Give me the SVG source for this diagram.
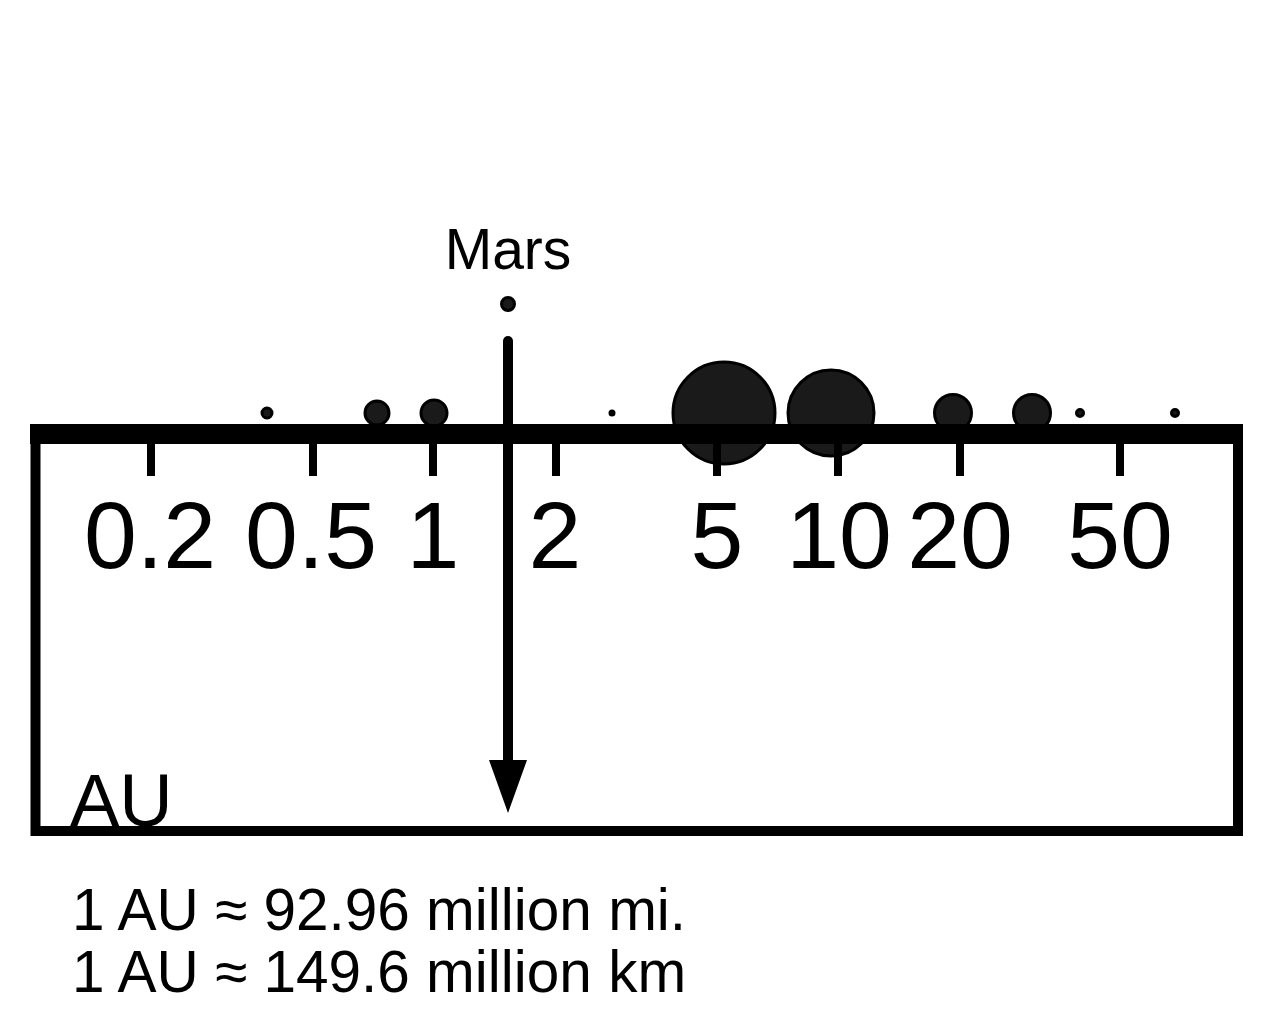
<svg xmlns="http://www.w3.org/2000/svg" width="1272" height="1033" viewBox="0 0 1272 1033">
<style>
.planet{fill:#1a1a1a;stroke:#000;stroke-width:3}
.tick{stroke:#000;stroke-width:8}
.num{font-family:"Liberation Sans",Arial,sans-serif;font-size:95px;text-anchor:middle;fill:#000}
.lbl{font-family:"Liberation Sans",Arial,sans-serif;fill:#000}
</style>
<rect width="1272" height="1033" fill="#fff"/>
<g id="frame">
<rect x="35.5" y="434" width="1202.5" height="397" fill="none" stroke="#000" stroke-width="10"/>
</g>
<g id="planets">
<circle class="planet" cx="267" cy="413" r="5"/>
<circle class="planet" cx="377" cy="413" r="12"/>
<circle class="planet" cx="434" cy="413" r="13"/>
<circle class="planet" cx="612" cy="413" r="2"/>
<circle class="planet" cx="724" cy="413" r="51"/>
<circle class="planet" cx="831" cy="413" r="43"/>
<circle class="planet" cx="953" cy="413" r="18.5"/>
<circle class="planet" cx="1032" cy="413" r="18.5"/>
<circle class="planet" cx="1080" cy="413" r="3.5"/>
<circle class="planet" cx="1175" cy="413" r="3.5"/>
</g>
<g id="axis">
<rect x="30" y="424" width="1213" height="20" fill="#000"/>
<line class="tick" x1="151" y1="440" x2="151" y2="476"/>
<line class="tick" x1="313" y1="440" x2="313" y2="476"/>
<line class="tick" x1="433" y1="440" x2="433" y2="476"/>
<line class="tick" x1="556" y1="440" x2="556" y2="476"/>
<line class="tick" x1="717" y1="440" x2="717" y2="476"/>
<line class="tick" x1="838" y1="440" x2="838" y2="476"/>
<line class="tick" x1="960" y1="440" x2="960" y2="476"/>
<line class="tick" x1="1120" y1="440" x2="1120" y2="476"/>
</g>
<g id="labels">
<text class="num" x="150" y="568">0.2</text>
<text class="num" x="311" y="568">0.5</text>
<text class="num" x="433" y="568">1</text>
<text class="num" x="555" y="568">2</text>
<text class="num" x="717" y="568">5</text>
<text class="num" x="839" y="568">10</text>
<text class="num" x="960" y="568">20</text>
<text class="num" x="1120" y="568">50</text>
<text class="lbl" x="70" y="826" font-size="74">AU</text>
</g>
<g id="mars">
<circle class="planet" cx="508" cy="304" r="6.5"/>
<text class="lbl" x="508" y="269" font-size="57" text-anchor="middle">Mars</text>
</g>
<g id="connectors">
<line x1="508" y1="341" x2="508" y2="765" stroke="#000" stroke-width="10" stroke-linecap="round"/>
<polygon points="489,760 527,760 508,813" fill="#000"/>
</g>
<g id="notes">
<text class="lbl" x="72" y="930" font-size="58.5">1 AU ≈ 92.96 million mi.</text>
<text class="lbl" x="72" y="992" font-size="58.5">1 AU ≈ 149.6 million km</text>
</g>
</svg>
